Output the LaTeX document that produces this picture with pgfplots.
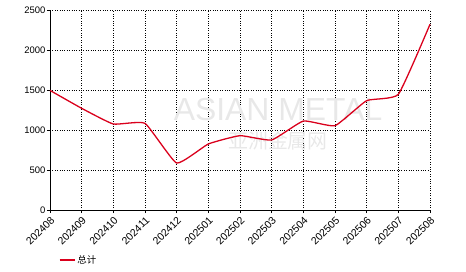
\documentclass[border=0pt]{standalone}
\usepackage{pgfplots}
\pgfplotsset{compat=1.18}
\usepackage{fontspec}
\setmainfont{Liberation Sans}
\newfontfamily\cjk{Noto Sans CJK SC}
\definecolor{lred}{RGB}{218,0,28}
\definecolor{wm}{RGB}{232,232,232}
\begin{document}
\begin{tikzpicture}
\useasboundingbox (-50bp,-62bp) rectangle (416bp,210bp);
\begin{axis}[
  at={(0,0)}, anchor=south west,
  scale only axis, width=380bp, height=200bp,
  xmin=0, xmax=12, ymin=0, ymax=2500,
  xtick={0,...,12},
  xticklabels={202408,202409,202410,202411,202412,202501,202502,202503,202504,202505,202506,202507,202508},
  ytick={0,500,1000,1500,2000,2500},
  grid=major,
  grid style={black, dotted, line width=0.6pt},
  axis x line*=bottom, axis y line*=left,
  axis line style={black, line width=0.8pt, -},
  tick align=outside, major tick length=3bp,
  tick style={black, line width=0.8pt},
  yticklabel style={font=\fontsize{9.5}{10}\selectfont, inner sep=1.5pt},
  /pgf/number format/assume math mode=true,
  /pgf/number format/1000 sep={},
  xticklabel style={font=\fontsize{10.5}{12}\selectfont, rotate=45, anchor=north east, inner sep=2pt},
  legend style={at={(0.015,-0.25)}, anchor=west, draw=none, fill=none, font=\fontsize{9.5}{10}\selectfont\cjk},
  legend image post style={line width=1.6pt},
  legend image code/.code={\draw[#1] (0bp,0bp) -- (15bp,0bp);},
  legend cell align=left,
  clip=false,
]
\node[font=\fontsize{32}{32}\selectfont, text=wm] at (axis cs:7.2,1250) {ASIAN METAL};
\node[font=\fontsize{20}{20}\selectfont\cjk, text=wm] at (axis cs:7.2,870) {亚洲金属网};
\addplot[lred, line width=1.3pt, smooth, tension=0.25] coordinates {
(0,1495) (1,1271) (2,1075) (3,1083) (4,587) (5,825) (6,929) (7,875) (8,1112) (9,1054) (10,1367) (11,1446) (12,2321)};
\addlegendentry{总计}
\end{axis}
\end{tikzpicture}
\end{document}
